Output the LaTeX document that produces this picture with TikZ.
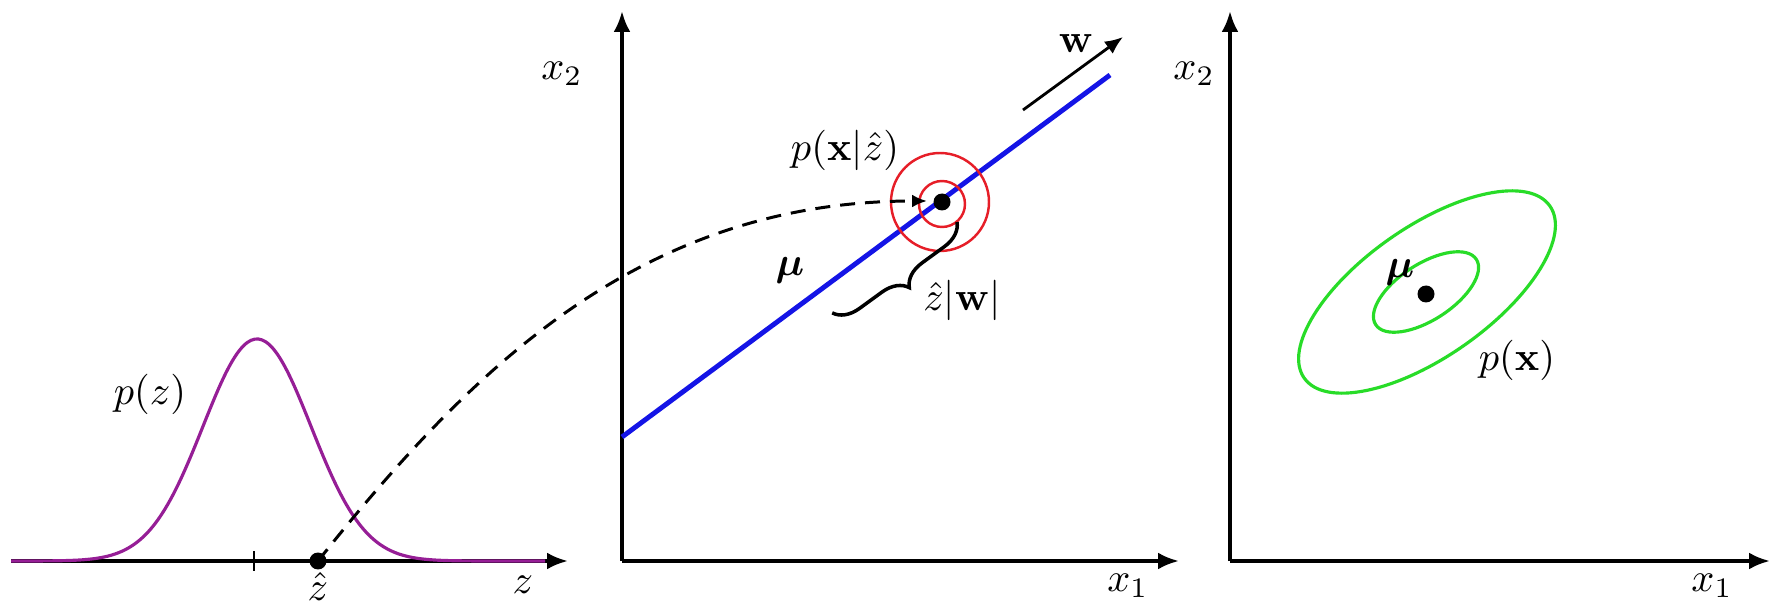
\documentclass[tikz,border=0pt]{standalone}
\usepackage{tikz}
\usepackage{amsmath, amssymb}
\usetikzlibrary{arrows.meta, decorations.pathreplacing}

\begin{document}
\begin{tikzpicture}[x=0.02cm, y=-0.02cm,
    every node/.style={inner sep=0pt},
    lbl/.style={scale=2.3},
    axis/.style={line width=2.2pt, -{Latex[length=0.42cm, width=0.34cm]}},
    dot/.style={circle, fill=black, minimum size=0.34cm},
    gauss/.style={line width=1.8pt, draw=violetaSuave},
    meanline/.style={line width=2.8pt, draw=azulFuerte},
    ring/.style={line width=1.4pt, draw=rojoSuave},
    contour/.style={line width=1.8pt, draw=verdeClaro},
    mapping/.style={line width=1.7pt, dash pattern=on 0.3cm off 0.2cm,
                    -{Latex[length=0.3cm, width=0.26cm]}},
    wdir/.style={line width=1.6pt, -{Latex[length=0.36cm, width=0.3cm]}}]
  \definecolor{violetaSuave}{RGB}{150,30,150}
  \definecolor{azulFuerte}{RGB}{20,20,230}
  \definecolor{rojoSuave}{RGB}{230,30,40}
  \definecolor{verdeClaro}{RGB}{40,220,40}

  \useasboundingbox (0,0) rectangle (1791,607);

  % left panel: latent space
  \coordinate (zL) at (11,561);
  \coordinate (zR) at (568,561);
  \draw[axis] (zL) -- (zR);
  \draw[line width=1pt] (254,551) -- (254,571);
  \draw[gauss] plot[domain=11:545, samples=150, smooth]
    (\x, {561-222*exp(-0.5*((\x-257)/54)^2)});
  \node[dot] (zh) at (318,561) {};
  \node[lbl] (zhlbl) at (318,586) {$\hat{z}$};
  \node[lbl] (zlbl)  at (523,585) {$z$};
  \node[lbl] (pz)    at (150,394) {$p(z)$};

  % middle panel: data space, p(x|z)
  \coordinate (mO) at (622,561);
  \coordinate (mT) at (622,11);
  \coordinate (mR) at (1179,561);
  \draw[axis] (mO) -- (mT);
  \draw[axis] (mO) -- (mR);
  \node[lbl] (mx2) at (562,74)   {$x_2$};
  \node[lbl] (mx1) at (1128,586) {$x_1$};

  \coordinate (mu0) at (622,437);
  \coordinate (mu1) at (1110,75);
  \draw[meanline] (mu0) -- (mu1);
  \draw[ring] (940,202) circle[radius=0.98cm];
  \draw[ring] (942,204) circle[radius=0.46cm];
  \node[dot] (xc) at (942,202) {};
  \coordinate (tip) at (927,201);
  \draw[mapping] (zh.center) .. controls (470,370) and (640,201) .. (tip);

  \coordinate (w0) at (1023,110);
  \coordinate (w1) at (1123,37);
  \draw[wdir] (w0) -- (w1);
  \node[lbl] (wlbl) at (1076,44) {$\mathbf{w}$};

  \coordinate (b0) at (957,222);
  \coordinate (b1) at (832,313);
  \draw[line width=2pt, decorate, decoration={brace, amplitude=0.5cm}] (b0) -- (b1);
  \node[lbl] (zw)   at (962,300) {$\hat{z}|\mathbf{w}|$};
  \node[lbl] (pxz)  at (845,150) {$p(\mathbf{x}|\hat{z})$};
  \node[lbl] (mu)   at (790,270) {$\boldsymbol{\mu}$};

  % right panel: marginal p(x)
  \coordinate (rO) at (1230,561);
  \coordinate (rT) at (1230,11);
  \coordinate (rR) at (1770,561);
  \draw[axis] (rO) -- (rT);
  \draw[axis] (rO) -- (rR);
  \node[lbl] (rx2) at (1194,74)  {$x_2$};
  \node[lbl] (rx1) at (1712,586) {$x_1$};

  \draw[contour, rotate around={35:(1427,292)}] (1427,292) ellipse[x radius=3cm, y radius=1.3cm];
  \draw[contour, rotate around={33:(1426,292)}] (1426,292) ellipse[x radius=1.2cm, y radius=0.56cm];
  \node[dot] (rc) at (1426,294) {};
  \node[lbl] (rmu) at (1400,272) {$\boldsymbol{\mu}$};
  \node[lbl] (px)  at (1517,360) {$p(\mathbf{x})$};
\end{tikzpicture}
\end{document}
